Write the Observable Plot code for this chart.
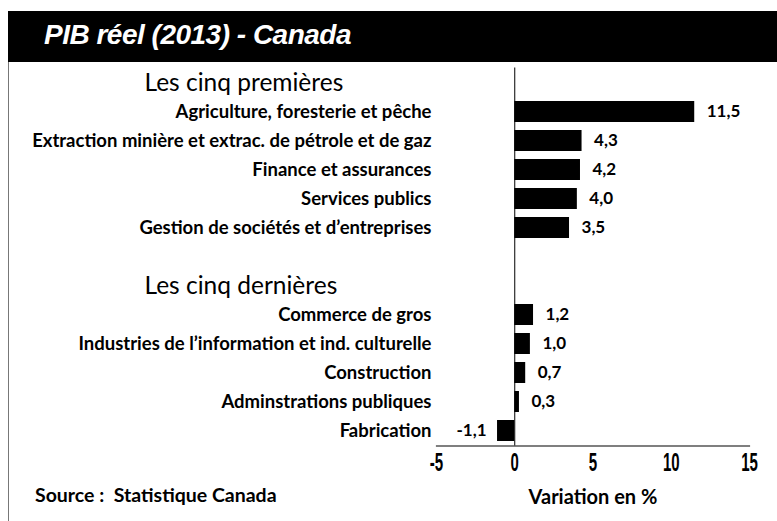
<!DOCTYPE html>
<html>
<head>
<meta charset="utf-8">
<script src="https://cdn.jsdelivr.net/npm/d3@7"></script>
<script src="https://cdn.jsdelivr.net/npm/@observablehq/plot@0.6"></script>
<style>
  html, body { margin: 0; padding: 0; background: #fff; }
  #page { position: relative; width: 777px; height: 521px; overflow: hidden; }
  #title { position: absolute; left: 8px; top: 11px; width: 769px; height: 51px; background: #000; }
  #title span { position: absolute; left: 36px; top: 8px; color: #fff; font-family: "Liberation Sans", Arial, sans-serif; font-weight: bold; font-style: italic; font-size: 28px; letter-spacing: -0.5px; }
  #border { position: absolute; left: 8px; top: 62px; width: 1px; height: 459px; background: #777; }
  #chart { position: absolute; left: 0; top: 62px; }
  #source { position: absolute; left: 35px; top: 483px; font-family: Lato, "Liberation Sans", sans-serif; font-weight: 700; font-size: 19.5px; white-space: pre; color: #000; }
</style>
</head>
<body>
<div id="page">
  <div id="title"><span>PIB réel (2013) - Canada</span></div>
  <div id="border"></div>
  <div id="chart"></div>
  <div id="source">Source :  Statistique Canada</div>
</div>
<script>
const categories = [
  "Agriculture, foresterie et pêche",
  "Extraction minière et extrac. de pétrole et de gaz",
  "Finance et assurances",
  "Services publics",
  "Gestion de sociétés et d’entreprises",
  "Commerce de gros",
  "Industries de l’information et ind. culturelle",
  "Construction",
  "Adminstrations publiques",
  "Fabrication"
];
const values = [11.5, 4.3, 4.2, 4.0, 3.5, 1.2, 1.0, 0.7, 0.3, -1.1];
const groupNames = ["Les cinq premières", "Les cinq dernières"];
const groupIndex = [0, 0, 0, 0, 0, 1, 1, 1, 1, 1];
const xTicks = [-5, 0, 5, 10, 15];
const xLabel = "Variation en %";

const data = categories.map((c, i) => ({category: c, value: values[i], group: groupIndex[i]}));
const spacer = " ";
const yDomain = [];
groupNames.forEach((g, gi) => {
  if (gi > 0) yDomain.push(spacer);
  yDomain.push(g);
  data.filter(d => d.group === gi).forEach(d => yDomain.push(d.category));
});
const headers = groupNames.map(g => ({label: g}));
const fmt = v => v.toFixed(1).replace(".", ",");

const labelFont = "Lato, 'Liberation Sans', sans-serif";
const tickFont = "'Liberation Sans', Arial, sans-serif";

const chart = Plot.plot({
  width: 777,
  height: 459,
  marginLeft: 436,
  marginRight: 28,
  marginTop: 5.5,
  marginBottom: 75.5,
  style: {fontFamily: labelFont, color: "#000", background: "transparent"},
  x: {domain: [-5, 15]},
  y: {domain: yDomain, padding: 0, axis: null},
  marks: [
    Plot.barX(data, {x: "value", y: "category", fill: "#000", insetTop: 4, insetBottom: 4}),
    Plot.ruleX([0], {stroke: "#000", strokeWidth: 1}),
    Plot.frame({anchor: "bottom", stroke: "#000", strokeWidth: 1.2}),
    Plot.text(data.filter(d => d.value >= 0), {x: "value", y: "category", text: d => fmt(d.value), textAnchor: "start", dx: 12, fontSize: 17, fontWeight: 700, fill: "#000"}),
    Plot.text(data.filter(d => d.value < 0), {x: "value", y: "category", text: d => fmt(d.value), textAnchor: "end", dx: -11, fontSize: 17, fontWeight: 700, fill: "#000"}),
    Plot.text(headers, {y: "label", text: "label", frameAnchor: "left", textAnchor: "start", dx: -292, fontSize: 24.5, fontWeight: 400, fill: "#000"}),
    Plot.axisY({ticks: categories, tickSize: 0, tickPadding: 5, fontSize: 18.5, fontWeight: 700, label: null}),
    Plot.axisX({ticks: xTicks, tickFormat: d => String(d), tickSize: 0, tickPadding: 7, fontSize: 25, fontWeight: 700, fontFamily: tickFont, label: null}),
    Plot.axisX({ticks: [], tickSize: 0, label: xLabel, labelAnchor: "center", labelOffset: 58, fontSize: 20, fontWeight: 700, labelArrow: "none"})
  ]
});
document.getElementById("chart").appendChild(chart);

// condense the x tick labels, as in the original's narrow typeface
chart.querySelectorAll('g[aria-label="x-axis tick label"] text').forEach(t => {
  const w = t.getBBox().width;
  t.setAttribute("textLength", (w * 0.6).toFixed(1));
  t.setAttribute("lengthAdjust", "spacingAndGlyphs");
});
</script>
</body>
</html>
